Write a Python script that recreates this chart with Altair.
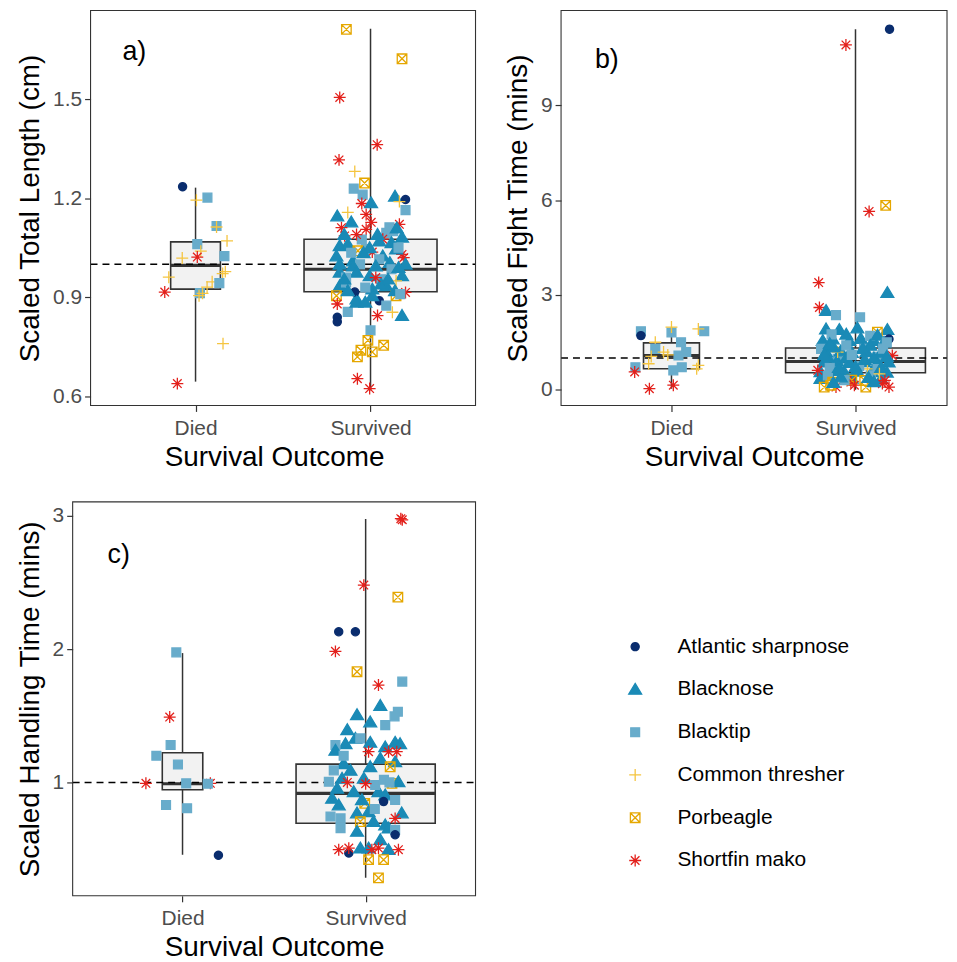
import altair as alt
import pandas as pd
import numpy as np

SPECIES = ["Atlantic sharpnose", "Blacknose", "Blacktip", "Common thresher", "Porbeagle", "Shortfin mako"]
CODES = ["AS", "BN", "BT", "CT", "PB", "SM"]
COLORS = ["#0A2D6E", "#1A8AB6", "#68ACCB", "#F5C540", "#E5A700", "#E3201B"]
FILLS = ["#0A2D6E", "#1A8AB6", "#68ACCB", "transparent", "transparent", "transparent"]


def _circle_path(r, k=20):
    pts = [(r * np.cos(2 * np.pi * i / k), r * np.sin(2 * np.pi * i / k)) for i in range(k)]
    return "M" + "L".join(f"{x:.3f},{y:.3f}" for x, y in pts) + "Z"


SHAPES = [
    _circle_path(0.68),
    "M0,-1.0L1.08,0.8L-1.08,0.8Z",
    "M-0.74,-0.74L0.74,-0.74L0.74,0.74L-0.74,0.74Z",
    "M-1,0L1,0M0,-1L0,1",
    "M-0.8,-0.8L0.8,-0.8L0.8,0.8L-0.8,0.8ZM-0.8,-0.8L0.8,0.8M-0.8,0.8L0.8,-0.8",
    "M-1,0L1,0M0,-1L0,1M-0.72,-0.72L0.72,0.72M-0.72,0.72L0.72,-0.72",
]
OUTCOMES = ["Died", "Survived"]

# ---------- Panel a: Scaled Total Length (cm) ----------
A_DIED = [
    ("AS", -0.074, 1.235), ("BT", 0.068, 1.202), ("CT", 0.005, 1.194), ("BT", 0.12, 1.116),
    ("CT", 0.12, 1.113), ("CT", 0.18, 1.071), ("BT", 0.01, 1.061), ("CT", 0.03, 1.04),
    ("SM", 0.01, 1.022), ("CT", -0.076, 1.019), ("BT", 0.165, 1.025), ("CT", 0.17, 0.978),
    ("CT", 0.155, 0.972), ("CT", -0.153, 0.961), ("CT", 0.095, 0.947), ("BT", 0.136, 0.943),
    ("CT", 0.066, 0.931), ("SM", -0.176, 0.916), ("BT", 0.025, 0.913), ("CT", 0.02, 0.905),
    ("CT", 0.04, 0.912), ("CT", 0.157, 0.76), ("SM", -0.104, 0.639),
]
A_SURV = [
    ("PB", -0.138, 1.711), ("PB", 0.18, 1.622), ("SM", -0.176, 1.505), ("SM", 0.038, 1.362),
    ("SM", -0.18, 1.316), ("CT", -0.09, 1.281), ("PB", -0.034, 1.246), ("BT", -0.096, 1.229),
    ("BT", -0.045, 1.211), ("BN", 0.14, 1.206), ("AS", 0.20, 1.196), ("CT", 0.165, 1.19),
    ("BT", 0.20, 1.164), ("SM", -0.05, 1.184), ("BN", 0.003, 1.186), ("CT", -0.13, 1.157),
    ("BN", -0.19, 1.146), ("SM", -0.025, 1.151), ("SM", 0.004, 1.127), ("BN", -0.11, 1.128),
    ("SM", -0.166, 1.111), ("SM", -0.025, 1.106), ("SM", 0.165, 1.121), ("BT", 0.108, 1.112),
    ("BT", 0.13, 1.10), ("BT", 0.09, 1.095), ("SM", -0.148, 1.086), ("BN", 0.18, 1.082),
    ("SM", 0.07, 1.076), ("BN", -0.176, 1.056), ("BN", -0.13, 1.061), ("BT", -0.025, 1.046),
    ("SM", 0.01, 1.037), ("PB", -0.072, 1.041), ("SM", 0.18, 1.03), ("SM", 0.19, 1.02),
    ("BN", -0.195, 1.025), ("BN", 0.07, 1.025), ("BN", -0.005, 1.05), ("BN", 0.146, 1.046),
    ("BN", -0.10, 1.01), ("BT", 0.05, 1.015), ("BN", 0.11, 1.005), ("BT", -0.06, 1.0),
    ("BN", -0.176, 1.0), ("BN", -0.10, 0.995), ("BN", 0.03, 0.995), ("BN", 0.20, 1.0),
    ("BT", 0.12, 0.985), ("BN", -0.176, 0.976), ("BN", -0.08, 0.976), ("BN", -0.005, 0.965),
    ("BN", 0.18, 0.965), ("BT", -0.14, 0.96), ("BT", 0.06, 0.955), ("CT", 0.146, 0.95),
    ("BN", -0.176, 0.935), ("BN", 0.09, 0.935), ("BT", -0.14, 0.945), ("BN", 0.01, 0.925),
    ("PB", -0.195, 0.905), ("BN", -0.08, 0.895), ("AS", -0.09, 0.916), ("PB", 0.146, 0.905),
    ("SM", 0.20, 0.915), ("AS", 0.05, 0.89), ("BN", 0.01, 0.905), ("SM", -0.19, 0.88),
    ("BT", 0.09, 0.875), ("BN", 0.18, 0.845), ("BT", -0.13, 0.856), ("AS", -0.19, 0.84),
    ("AS", -0.19, 0.826), ("SM", 0.04, 0.845), ("CT", 0.125, 0.855), ("BT", 0.0, 0.80),
    ("PB", -0.015, 0.77), ("PB", 0.075, 0.755), ("PB", -0.055, 0.74), ("PB", 0.01, 0.735),
    ("PB", -0.075, 0.72), ("SM", -0.075, 0.654), ("SM", -0.005, 0.624), ("BN", -0.08, 0.885),
    ("BN", -0.03, 0.885), ("BN", 0.15, 1.11), ("BN", 0.12, 1.065), ("BT", -0.05, 1.075),
    ("BN", 0.05, 1.07), ("BN", -0.15, 1.09), ("SM", -0.08, 1.09), ("BT", 0.16, 1.05),
    ("BN", 0.06, 0.94), ("BT", -0.03, 0.93), ("SM", 0.03, 0.96), ("BN", 0.14, 0.92),
    ("BT", 0.17, 0.91), ("BN", -0.13, 0.92), ("BN", -0.04, 1.035), ("BN", 0.10, 0.955),
    ("BN", -0.15, 0.955), ("BN", 0.04, 1.09), ("BT", -0.11, 1.035), ("BN", 0.16, 0.99),
]
A_MIN = [0.645, 0.619]
A_Q1 = [0.925, 0.917]
A_MED = [0.997, 0.985]
A_Q3 = [1.068, 1.076]
A_MAX = [1.232, 1.713]
A_N = [21, 150]

# ---------- Panel b: Scaled Fight Time (mins) ----------
B_DIED = [
    ("BT", -0.166, 1.85), ("AS", -0.166, 1.71), ("BT", 0.0, 1.81), ("CT", 0.0, 1.98),
    ("BT", 0.178, 1.85), ("CT", 0.146, 1.92), ("CT", -0.088, 1.5), ("BT", 0.052, 1.5),
    ("BT", -0.088, 1.29), ("CT", -0.043, 1.19), ("BT", 0.08, 1.19), ("BT", 0.038, 1.08),
    ("CT", -0.11, 1.05), ("BT", -0.196, 0.71), ("CT", -0.124, 0.82), ("BT", 0.056, 0.71),
    ("BT", 0.01, 0.61), ("CT", 0.137, 0.66), ("CT", 0.146, 0.77), ("SM", -0.2, 0.56),
    ("SM", -0.12, 0.03), ("SM", 0.01, 0.14), ("CT", -0.02, 1.1),
]
B_SURV = [
    ("AS", 0.185, 11.41), ("SM", -0.052, 10.91), ("PB", 0.164, 5.83), ("SM", 0.074, 5.64),
    ("SM", -0.2, 3.39), ("BN", 0.173, 3.07), ("SM", -0.196, 2.6), ("BN", -0.16, 2.5),
    ("BT", -0.106, 2.36), ("BT", 0.025, 2.29),
    ("BN", -0.16, 1.92), ("BN", -0.088, 1.9), ("BN", 0.01, 1.95), ("BN", 0.173, 1.9),
    ("PB", 0.119, 1.82), ("BN", -0.178, 1.55), ("BN", -0.124, 1.6), ("BN", -0.034, 1.55),
    ("BN", 0.029, 1.62), ("BN", 0.10, 1.55), ("BN", 0.155, 1.5), ("AS", 0.182, 1.6),
    ("BT", -0.187, 1.29), ("BT", 0.047, 1.29), ("BT", 0.119, 1.04), ("BT", -0.097, 0.975),
    ("BN", -0.16, 1.19), ("BN", -0.08, 1.22), ("BN", -0.02, 1.17), ("BN", 0.06, 1.2),
    ("BN", 0.14, 1.18), ("BN", -0.17, 0.87), ("BN", -0.10, 0.9), ("BN", -0.034, 0.86),
    ("BN", 0.047, 0.88), ("BN", 0.119, 0.85), ("BN", 0.18, 0.87), ("BN", -0.19, 0.56),
    ("BN", -0.12, 0.6), ("BN", -0.06, 0.55), ("BN", 0.01, 0.58), ("BN", 0.09, 0.56),
    ("BN", 0.17, 0.55), ("BN", -0.19, 0.35), ("BN", -0.02, 0.36), ("BN", 0.14, 0.35),
    ("BT", -0.15, 0.45), ("BT", 0.083, 0.45), ("CT", 0.065, 0.66), ("CT", -0.097, 1.19),
    ("SM", -0.205, 0.61), ("SM", 0.2, 1.08), ("PB", -0.17, 0.08), ("PB", -0.124, 0.24),
    ("SM", -0.106, 0.08), ("SM", -0.025, 0.24), ("PB", -0.02, 0.3), ("SM", -0.006, 0.14),
    ("PB", 0.056, 0.08), ("PB", 0.05, 0.29), ("SM", 0.146, 0.19), ("SM", 0.182, 0.08),
    ("SM", 0.16, 0.29), ("PB", -0.135, 0.14), ("BT", -0.13, 1.75), ("BT", 0.08, 1.7),
    ("BT", -0.05, 1.4), ("BT", 0.15, 1.3), ("BT", -0.14, 0.7), ("BT", 0.02, 0.75),
    ("BT", 0.12, 0.65), ("BT", -0.06, 0.3), ("BN", -0.12, 1.35), ("BN", 0.08, 1.4),
    ("BN", -0.05, 1.0), ("BN", 0.1, 1.0), ("BN", -0.15, 1.02), ("BN", 0.0, 0.72),
    ("BN", 0.14, 0.7), ("BN", -0.08, 0.4), ("BN", 0.07, 0.38), ("CT", 0.13, 0.5),
    ("BN", -0.05, 1.75), ("BN", 0.12, 1.72), ("BN", -0.14, 1.45), ("BN", 0.04, 1.3),
    ("BN", 0.17, 1.05), ("BN", -0.09, 0.7), ("BN", 0.05, 0.95), ("BN", -0.17, 1.1),
    ("BN", 0.1, 0.25), ("BN", -0.12, 0.22), ("BT", 0.17, 1.5), ("BT", -0.02, 1.1),
]
B_MIN = [0.03, 0.0]
B_Q1 = [0.66, 0.535]
B_MED = [1.08, 0.89]
B_Q3 = [1.48, 1.32]
B_MAX = [1.98, 11.41]
B_N = [24, 150]

# ---------- Panel c: Scaled Handling Time (mins) ----------
C_DIED = [
    ("BT", -0.034, 1.975), ("SM", -0.07, 1.49), ("BT", -0.065, 1.28), ("BT", -0.143, 1.20),
    ("BT", -0.025, 1.134), ("SM", -0.2, 0.993), ("BT", 0.02, 0.993), ("SM", 0.152, 0.993),
    ("BT", 0.138, 0.99), ("BT", -0.09, 0.83), ("BT", 0.025, 0.806), ("AS", 0.196, 0.453),
]
C_SURV = [
    ("SM", 0.192, 2.978), ("SM", 0.2, 2.97), ("SM", -0.01, 2.48), ("PB", 0.176, 2.39),
    ("AS", -0.147, 2.13), ("AS", -0.056, 2.13), ("SM", -0.165, 1.983), ("PB", -0.047, 1.83),
    ("BT", 0.2, 1.756), ("SM", 0.07, 1.73), ("BN", 0.08, 1.577), ("BT", 0.176, 1.53),
    ("BN", -0.047, 1.507), ("BT", 0.158, 1.495), ("BN", 0.025, 1.453), ("BT", 0.107, 1.43),
    ("BN", -0.1, 1.395), ("BN", -0.056, 1.33), ("BT", -0.029, 1.33), ("BN", -0.11, 1.29),
    ("BT", -0.165, 1.28), ("BN", -0.165, 1.24), ("BN", 0.025, 1.30), ("BN", 0.107, 1.266),
    ("BN", 0.161, 1.30), ("BN", 0.188, 1.29), ("SM", 0.016, 1.23), ("SM", 0.125, 1.23),
    ("SM", 0.17, 1.23), ("BN", 0.08, 1.18), ("BN", 0.161, 1.154), ("PB", 0.134, 1.117),
    ("BN", -0.12, 1.14), ("BN", 0.025, 1.117), ("BT", -0.174, 1.09), ("BN", -0.083, 1.09),
    ("BN", -0.129, 1.03), ("BN", -0.01, 1.03), ("BT", -0.201, 1.005), ("PB", 0.144, 0.993),
    ("BN", 0.179, 1.005), ("BN", -0.156, 0.955), ("BN", -0.065, 0.93), ("BN", 0.07, 0.93),
    ("BT", 0.052, 0.98), ("SM", -0.1, 1.0), ("SM", 0.0, 0.99), ("BT", 0.1, 1.02),
    ("BN", -0.183, 0.88), ("BN", -0.147, 0.83), ("PB", -0.005, 0.843), ("BN", 0.107, 0.905),
    ("AS", 0.098, 0.856), ("BT", 0.161, 0.868), ("BN", -0.047, 0.77), ("BN", 0.016, 0.78),
    ("BN", 0.197, 0.77), ("BT", -0.192, 0.744), ("BT", -0.137, 0.73), ("PB", -0.029, 0.706),
    ("BN", 0.043, 0.706), ("SM", 0.161, 0.73), ("BN", 0.107, 0.68), ("BT", -0.137, 0.657),
    ("BN", -0.047, 0.632), ("BN", 0.125, 0.657), ("BT", 0.161, 0.644), ("AS", 0.161, 0.607),
    ("BN", 0.08, 0.57), ("SM", -0.147, 0.495), ("AS", -0.092, 0.47), ("SM", -0.092, 0.507),
    ("BN", -0.029, 0.507), ("BN", 0.016, 0.507), ("SM", 0.034, 0.495), ("SM", 0.07, 0.507),
    ("BN", 0.125, 0.495), ("SM", 0.179, 0.495), ("PB", 0.016, 0.42), ("PB", 0.098, 0.42),
    ("PB", 0.07, 0.284), ("BT", -0.12, 1.2), ("BT", 0.13, 1.0), ("BN", -0.02, 0.87),
    ("BT", 0.05, 0.8),
]
C_MIN = [0.457, 0.284]
C_Q1 = [0.945, 0.694]
C_MED = [0.99, 0.918]
C_Q3 = [1.222, 1.137]
C_MAX = [1.97, 2.975]
C_N = [11, 130]

FONT = "Liberation Sans"
NAME = dict(zip(CODES, SPECIES))
BOX_MAX_WIDTH = 0.76
FRAME = "#333333"

shape_enc = alt.Shape("species:N", scale=alt.Scale(domain=SPECIES, range=SHAPES),
                      legend=alt.Legend(title=None))
fill_enc = alt.Fill("species:N", scale=alt.Scale(domain=SPECIES, range=FILLS),
                    legend=alt.Legend(title=None))
stroke_enc = alt.Stroke("species:N", scale=alt.Scale(domain=SPECIES, range=COLORS),
                        legend=alt.Legend(title=None))

label_expr = f"datum.value == 1 ? '{OUTCOMES[0]}' : '{OUTCOMES[1]}'"


def panel(died, surv, mins, q1s, meds, q3s, maxs, ns, ydom, yticks, yfmt, ytitle,
          xdom, frame_x, width, height, inset, letter, lx, ly):
    rows = []
    for i, grp in enumerate([died, surv]):
        for code, dx, val in grp:
            rows.append({"species": NAME[code], "x": i + 1 + dx, "y": val,
                         "outcome": OUTCOMES[i]})
    pts = pd.DataFrame(rows)
    nmax = max(ns)
    hw = [BOX_MAX_WIDTH * np.sqrt(n / nmax) / 2 for n in ns]
    box = pd.DataFrame({
        "idx": [1, 2], "lo": [1 - hw[0], 2 - hw[1]], "hi": [1 + hw[0], 2 + hw[1]],
        "ymin": mins, "q1": q1s, "med": meds, "q3": q3s, "ymax": maxs,
    })
    xs = alt.Scale(domain=xdom, nice=False, zero=False)
    ys = alt.Scale(domain=ydom, nice=False, zero=False)
    xaxis = alt.Axis(values=[1, 2], labelExpr=label_expr, title="Survival Outcome",
                     labelPadding=6, titlePadding=5)
    yaxis = alt.Axis(values=yticks, format=yfmt, title=ytitle, offset=-inset)

    whisker = alt.Chart(box).mark_rule(color="#333333", strokeWidth=1.5).encode(
        x=alt.X("idx:Q", scale=xs, axis=xaxis),
        y=alt.Y("ymin:Q", scale=ys, axis=yaxis), y2="ymax:Q")
    boxes = alt.Chart(box).mark_bar(fill="#F2F2F2", stroke="#333333", strokeWidth=1.6).encode(
        x=alt.X("lo:Q", scale=xs), x2="hi:Q", y=alt.Y("q1:Q", scale=ys), y2="q3:Q")
    median = alt.Chart(box).mark_rule(color="#333333", strokeWidth=3.2).encode(
        x=alt.X("lo:Q", scale=xs), x2="hi:Q", y=alt.Y("med:Q", scale=ys))
    ref = alt.Chart(box.head(1)).mark_rule(color="black", strokeWidth=1.5,
                                            strokeDash=[7, 5]).encode(
        x=alt.datum(frame_x[0], scale=xs), x2=alt.datum(frame_x[1]), y=alt.datum(1.0, scale=ys))
    points = alt.Chart(pts).mark_point(opacity=1, strokeWidth=1.3, size=144).encode(
        x=alt.X("x:Q", scale=xs), y=alt.Y("y:Q", scale=ys),
        shape=shape_enc, fill=fill_enc, stroke=stroke_enc)
    txt = alt.Chart(pd.DataFrame({"t": [letter]})).mark_text(
        font=FONT, fontSize=27, align="left", baseline="alphabetic", color="black").encode(
        text="t:N", x=alt.value(lx + inset), y=alt.value(ly))
    frame = alt.Chart(box.head(1)).mark_rect(fill="transparent", stroke=FRAME,
                                             strokeWidth=1.1).encode(
        x=alt.datum(frame_x[0], scale=xs), x2=alt.datum(frame_x[1]),
        y=alt.datum(ydom[0], scale=ys), y2=alt.datum(ydom[1]))
    return alt.layer(whisker, boxes, median, ref, points, txt, frame).properties(
        width=width, height=height)


A_INSET = 18
B_WIDTH = 388
pa = panel(A_DIED, A_SURV, A_MIN, A_Q1, A_MED, A_Q3, A_MAX, A_N,
           [0.573, 1.768], [0.6, 0.9, 1.2, 1.5], ".1f", "Scaled Total Length (cm)",
           [0.4 - A_INSET / 176, 2.6], [0.4, 2.6], 405, 397, A_INSET, "a)", 32, 50)
pb = panel(B_DIED, B_SURV, B_MIN, B_Q1, B_MED, B_Q3, B_MAX, B_N,
           [-0.5, 12.0], [0, 3, 6, 9], "d", "Scaled Fight Time (mins)",
           [0.4, 0.4 + B_WIDTH / 185], [0.4, 0.4 + B_WIDTH / 185], B_WIDTH, 397, 0,
           "b)", 34, 58)
pc = panel(C_DIED, C_SURV, C_MIN, C_Q1, C_MED, C_Q3, C_MAX, C_N,
           [0.149, 3.104], [1, 2, 3], "d", "Scaled Handling Time (mins)",
           [0.4, 2.6], [0.4, 2.6], 405, 396, 0, "c)", 35, 61)

chart = alt.concat(pa, pb, pc, columns=2,
                   spacing={"row": 28, "column": 26}).properties(
    padding={"left": 7, "top": -2, "right": 0, "bottom": 0}
).configure_view(
    stroke="transparent"
).configure_axis(
    grid=False, domain=False, labelFont=FONT, labelFontSize=21, labelColor="#4D4D4D",
    titleFont=FONT, titleFontSize=28, titleFontWeight="normal", titleColor="black",
    tickColor="#333333", tickSize=6, tickWidth=1.2, labelPadding=3, titlePadding=8
).configure_axisY(
    minExtent=0
).configure_legend(
    orient="none", legendX=555, legendY=629, labelFont=FONT, labelFontSize=21,
    labelColor="black", symbolSize=144, symbolStrokeWidth=1.3, rowPadding=21,
    labelOffset=32, padding=0, labelLimit=0
)

chart.save("out.html", embed_options={"renderer": "svg", "actions": False})
